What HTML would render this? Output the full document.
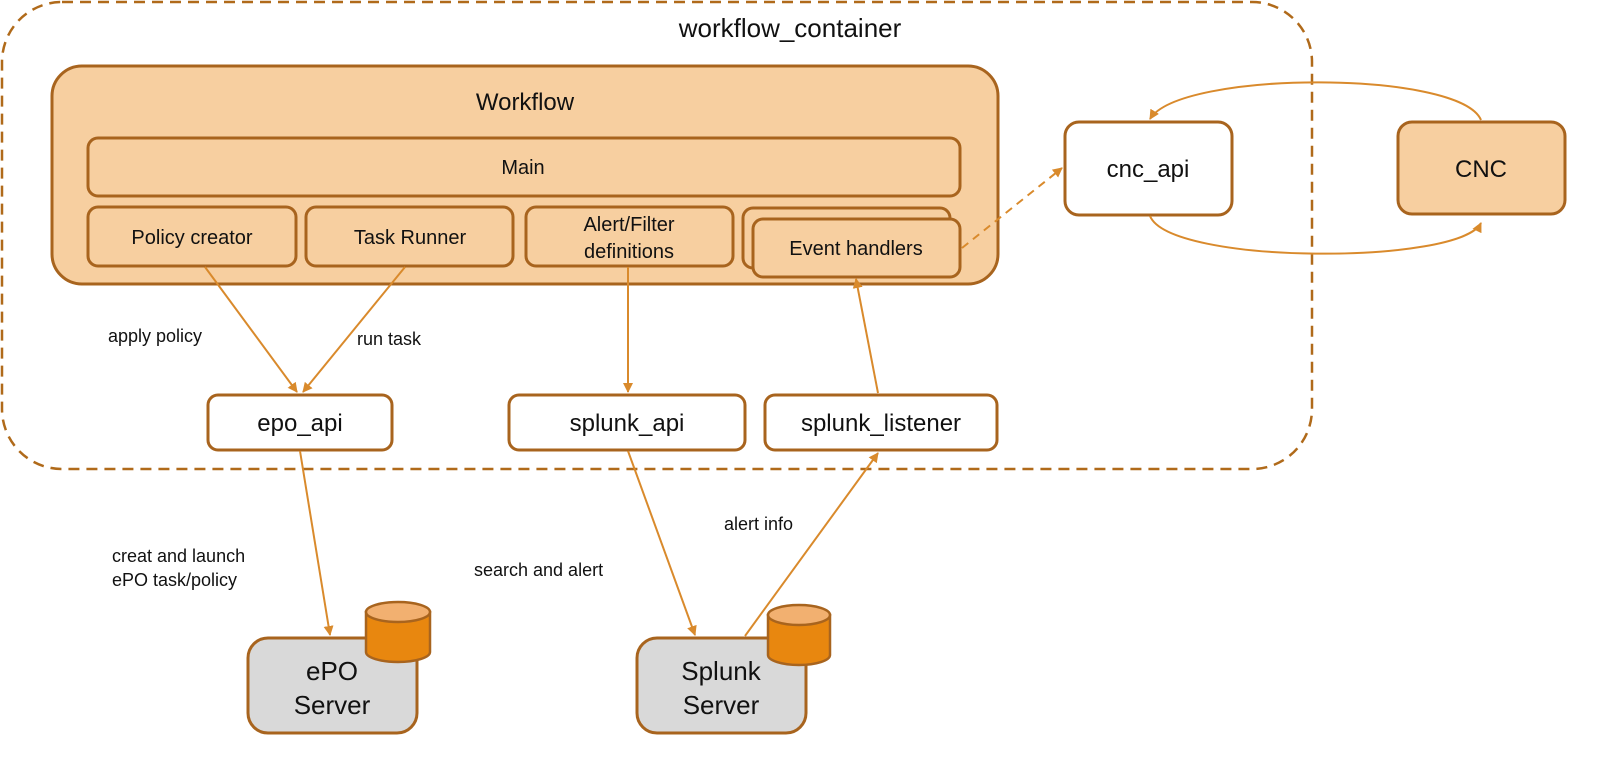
<!DOCTYPE html>
<html><head><meta charset="utf-8"><style>body{margin:0;background:#fff}svg{display:block;font-family:"Liberation Sans","DejaVu Sans",sans-serif}</style></head><body>
<svg width="1622" height="763" viewBox="0 0 1622 763" xmlns="http://www.w3.org/2000/svg">
<defs><marker id="a" viewBox="0 0 10 10" refX="9" refY="5" markerWidth="5" markerHeight="5" orient="auto"><path d="M0,0L10,5L0,10z" fill="#d98a2c"/></marker></defs>
<rect x="2" y="2" width="1310" height="467" rx="60" fill="none" stroke="#b06a1a" stroke-width="2.5" stroke-dasharray="11,7"/>
<text x="790" y="37" font-size="26" text-anchor="middle" fill="#111">workflow_container</text>
<g stroke="#a8641e" stroke-width="3" fill="#f7cfa0">
<rect x="52" y="66" width="946" height="218" rx="30"/>
<rect x="88" y="138" width="872" height="58" rx="10"/>
<rect x="88" y="207" width="208" height="59" rx="10"/>
<rect x="306" y="207" width="207" height="59" rx="10"/>
<rect x="526" y="207" width="207" height="59" rx="10"/>
<rect x="743" y="208" width="207" height="60" rx="10"/>
<rect x="753" y="219" width="207" height="58" rx="10"/>
<rect x="1398" y="122" width="167" height="92" rx="14"/>
</g>
<g stroke="#a8641e" stroke-width="3" fill="#fff">
<rect x="1065" y="122" width="167" height="93" rx="14"/>
<rect x="208" y="395" width="184" height="55" rx="10"/>
<rect x="509" y="395" width="236" height="55" rx="10"/>
<rect x="765" y="395" width="232" height="55" rx="10"/>
</g>
<g stroke="#a8641e" stroke-width="3" fill="#d9d9d9">
<rect x="248" y="638" width="169" height="95" rx="20"/>
<rect x="637" y="638" width="169" height="95" rx="20"/>
</g>
<g stroke="#a8641e" stroke-width="2.5">
<path d="M366,612 v40 a32,10 0 0 0 64,0 v-40z" fill="#e8870f"/>
<ellipse cx="398" cy="612" rx="32" ry="10" fill="#f2b070"/>
<path d="M768,615 v40 a31,10 0 0 0 62,0 v-40z" fill="#e8870f"/>
<ellipse cx="799" cy="615" rx="31" ry="10" fill="#f2b070"/>
</g>
<g font-size="20" fill="#111" text-anchor="middle">
<text x="525" y="110" font-size="24">Workflow</text>
<text x="523" y="174">Main</text>
<text x="192" y="244">Policy creator</text>
<text x="410" y="244">Task Runner</text>
<text x="629" y="231">Alert/Filter</text>
<text x="629" y="258">definitions</text>
<text x="856" y="255">Event handlers</text>
<text x="1148" y="177" font-size="24">cnc_api</text>
<text x="1481" y="177" font-size="24">CNC</text>
<text x="300" y="431" font-size="24">epo_api</text>
<text x="627" y="431" font-size="24">splunk_api</text>
<text x="881" y="431" font-size="24">splunk_listener</text>
<text x="332" y="680" font-size="26">ePO</text>
<text x="332" y="714" font-size="26">Server</text>
<text x="721" y="680" font-size="26">Splunk</text>
<text x="721" y="714" font-size="26">Server</text>
</g>
<g font-size="18" fill="#111">
<text x="108" y="342">apply policy</text>
<text x="357" y="345">run task</text>
<text x="112" y="562">creat and launch</text>
<text x="112" y="586">ePO task/policy</text>
<text x="474" y="576">search and alert</text>
<text x="724" y="530">alert info</text>
</g>
<g stroke="#d98a2c" stroke-width="2" fill="none" marker-end="url(#a)">
<line x1="205" y1="267" x2="297" y2="392"/>
<line x1="405" y1="267" x2="303" y2="392"/>
<line x1="628" y1="267" x2="628" y2="392"/>
<line x1="878" y1="393" x2="856" y2="279"/>
<line x1="962" y1="248" x2="1062" y2="168" stroke-dasharray="8,6"/>
<path d="M1481,120 C1460,70 1180,70 1150,119"/>
<path d="M1150,216 C1170,265 1460,265 1481,223"/>
<line x1="300" y1="451" x2="330" y2="635"/>
<line x1="628" y1="451" x2="695" y2="635"/>
<line x1="745" y1="636" x2="878" y2="453"/>
</g>
</svg>
</body></html>
